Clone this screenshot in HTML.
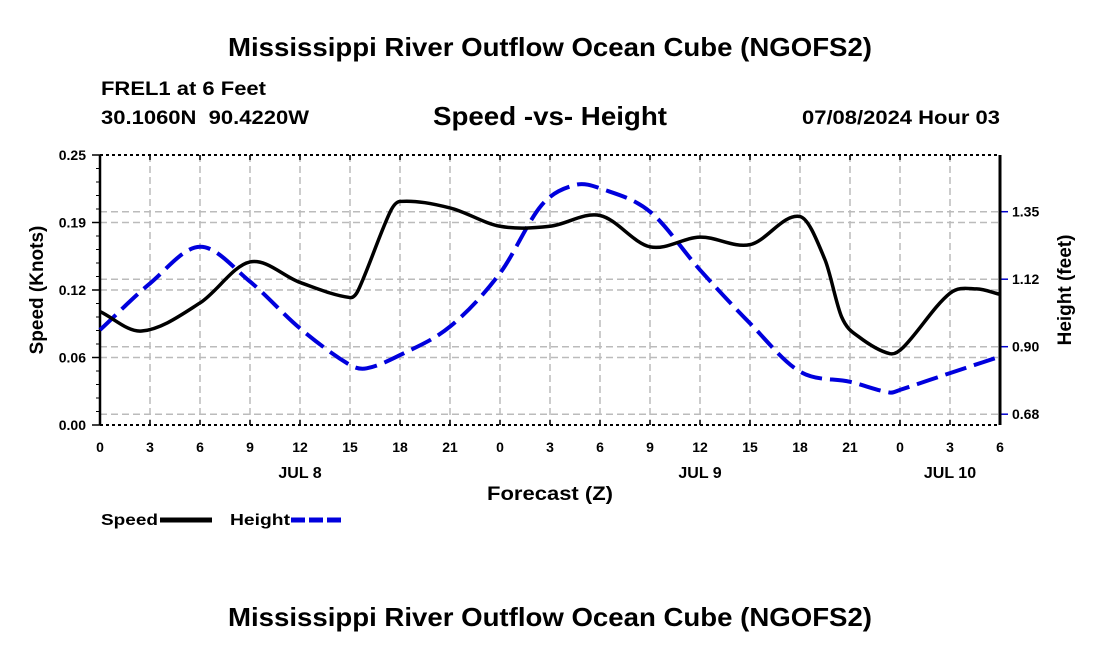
<!DOCTYPE html>
<html><head><meta charset="utf-8"><style>
body{margin:0;background:#fff}
svg text{font-family:"Liberation Sans",sans-serif;font-weight:bold}
</style></head><body>
<svg width="1100" height="650" viewBox="0 0 1100 650">
<text x="228" y="56" font-size="26" textLength="644" lengthAdjust="spacingAndGlyphs">Mississippi River Outflow Ocean Cube (NGOFS2)</text>
<text x="101" y="95" font-size="19" textLength="165" lengthAdjust="spacingAndGlyphs">FREL1 at 6 Feet</text>
<text x="101" y="124" font-size="19" textLength="208" lengthAdjust="spacingAndGlyphs" xml:space="preserve">30.1060N  90.4220W</text>
<text x="433" y="125" font-size="26" textLength="234" lengthAdjust="spacingAndGlyphs">Speed -vs- Height</text>
<text x="802" y="124" font-size="19" textLength="198" lengthAdjust="spacingAndGlyphs">07/08/2024 Hour 03</text>
<g id="grid"></g>
<g id="axes"></g>
<g id="series"></g>
<text x="487" y="500" font-size="19" textLength="126" lengthAdjust="spacingAndGlyphs">Forecast (Z)</text>
<text transform="translate(43,290) rotate(-90)" text-anchor="middle" font-size="19">Speed (Knots)</text>
<text transform="translate(1071,290) rotate(-90)" text-anchor="middle" font-size="19">Height (feet)</text>
<g><text x="101" y="525" font-size="16" textLength="57" lengthAdjust="spacingAndGlyphs">Speed</text><line x1="160" y1="520" x2="212" y2="520" stroke="#000" stroke-width="5"/></g>
<g><text x="230" y="525" font-size="16" textLength="60" lengthAdjust="spacingAndGlyphs">Height</text><line x1="291" y1="520" x2="343" y2="520" stroke="#0000dd" stroke-width="5" stroke-dasharray="14,4"/></g>
<text x="228" y="626" font-size="26" textLength="644" lengthAdjust="spacingAndGlyphs">Mississippi River Outflow Ocean Cube (NGOFS2)</text>
</svg>
<script>
const speedHours=[0,2.5,6,9,12,15,15.5,17.4,18,21,24,27,30,33,36,39,42,43.5,44.5,45.5,47.4,48.2,51,52.6,54];
const speedValues=[0.105,0.087,0.113,0.151,0.132,0.118,0.125,0.197,0.207,0.201,0.184,0.184,0.194,0.165,0.174,0.167,0.193,0.153,0.100,0.082,0.066,0.072,0.122,0.126,0.121];
const heightHours=[0,3,6,9,12,15,16,18,21,24,26.5,28.5,30,33,36,39,42,45,47.4,48,51,54];
const heightValues=[0.956,1.111,1.233,1.117,0.961,0.839,0.828,0.872,0.967,1.145,1.372,1.439,1.428,1.35,1.156,0.978,0.817,0.783,0.747,0.756,0.812,0.867];
const xTickLabels=["0","3","6","9","12","15","18","21","0","3","6","9","12","15","18","21","0","3","6"];
const dayLabels=["JUL 8","JUL 9","JUL 10"];
const dayHours=[12,36,51];
const leftTicks=[0,0.0625,0.125,0.1875,0.25];
const leftTickLabels=["0.00","0.06","0.12","0.19","0.25"];
const rightTicks=[0.675,0.9,1.125,1.35];
const rightTickLabels=["0.68","0.90","1.12","1.35"];

const X0=100,X1=1000,Y0=425,Y1=155;
const xS=h=>X0+(X1-X0)*h/54;
const yL=v=>Y0-(Y0-Y1)*v/0.25;
const yR=v=>346.7-(v-0.9)*300;
const NS="http://www.w3.org/2000/svg";
function mk(tag,attrs,parent){const e=document.createElementNS(NS,tag);for(const k in attrs)e.setAttribute(k,attrs[k]);parent.appendChild(e);return e;}
const grid=document.getElementById('grid'),axes=document.getElementById('axes'),series=document.getElementById('series');

for(let i=0;i<xTickLabels.length;i++){const x=xS(i*3);
 if(i>0&&i<18){const l=mk('line',{x1:x,y1:Y1,x2:x,y2:Y0,stroke:'#bbb','stroke-width':1.5,'stroke-dasharray':'7,4'},grid);
 
 }
 const t=mk('text',{x:x,y:452,'text-anchor':'middle','font-size':14},axes);t.textContent=xTickLabels[i];
 
 
 mk('line',{x1:x,y1:Y0,x2:x,y2:Y0-5,stroke:'#000','stroke-width':1.5},axes);
 mk('line',{x1:x,y1:Y1,x2:x,y2:Y1+5,stroke:'#000','stroke-width':1.5},axes);
}
for(let i=0;i<dayLabels.length;i++){const t=mk('text',{x:xS(dayHours[i]),y:478,'text-anchor':'middle','font-size':16},axes);t.textContent=dayLabels[i];
 
 }
for(let i=0;i<leftTicks.length;i++){const y=yL(leftTicks[i]);
 if(i>0&&i<leftTicks.length-1){const l=mk('line',{x1:X0,y1:y,x2:X1,y2:y,stroke:'#bbb','stroke-width':1.5,'stroke-dasharray':'7,4'},grid);
 
 }
 const t=mk('text',{x:86,y:y+5,'text-anchor':'end','font-size':14},axes);t.textContent=leftTickLabels[i];
 
 
 mk('line',{x1:X0,y1:y,x2:X0-8,y2:y,stroke:'#000','stroke-width':1.5},axes);
}
for(let v=0.0125;v<0.25;v+=0.0125){const y=yL(v);mk('line',{x1:X0,y1:y,x2:X0-4,y2:y,stroke:'#000','stroke-width':1},axes);}
for(let i=0;i<rightTicks.length;i++){const y=yR(rightTicks[i]);
 const l=mk('line',{x1:X0,y1:y,x2:X1,y2:y,stroke:'#bbb','stroke-width':1.5,'stroke-dasharray':'7,4'},grid);
 
 
 mk('line',{x1:X1,y1:y,x2:X1+8,y2:y,stroke:'#0000cc','stroke-width':1.5},axes);
 const t=mk('text',{x:1012,y:y+5,'font-size':14},axes);t.textContent=rightTickLabels[i];
 
 
}
mk('line',{x1:X0,y1:Y1,x2:X1,y2:Y1,stroke:'#000','stroke-width':2,'stroke-dasharray':'3,3'},axes);
mk('line',{x1:X0,y1:Y0,x2:X1,y2:Y0,stroke:'#000','stroke-width':2,'stroke-dasharray':'3,3'},axes);
mk('line',{x1:X0,y1:Y1,x2:X0,y2:Y0,stroke:'#000','stroke-width':2.5},axes);
mk('line',{x1:X1,y1:Y1,x2:X1,y2:Y0,stroke:'#000','stroke-width':3},axes);

function smooth(pts){
 const n=pts.length,m=[];
 for(let i=0;i<n;i++){const a=pts[Math.max(0,i-1)],b=pts[Math.min(n-1,i+1)];m.push((b[1]-a[1])/(b[0]-a[0]));}
 let d='M'+pts[0][0]+','+pts[0][1];
 for(let i=0;i<n-1;i++){const p1=pts[i],p2=pts[i+1],dx=(p2[0]-p1[0])/3;
  d+=' C'+(p1[0]+dx)+','+(p1[1]+m[i]*dx)+' '+(p2[0]-dx)+','+(p2[1]-m[i+1]*dx)+' '+p2[0]+','+p2[1];}
 return d;}
const hp=mk('path',{d:smooth(heightHours.map((h,i)=>[xS(h),yR(heightValues[i])])),fill:'none',stroke:'#0000dd','stroke-width':4,'stroke-dasharray':'22,8'},series);


const sp=mk('path',{d:smooth(speedHours.map((h,i)=>[xS(h),yL(speedValues[i])])),fill:'none',stroke:'#000','stroke-width':3.5},series);


</script>
</body></html>
